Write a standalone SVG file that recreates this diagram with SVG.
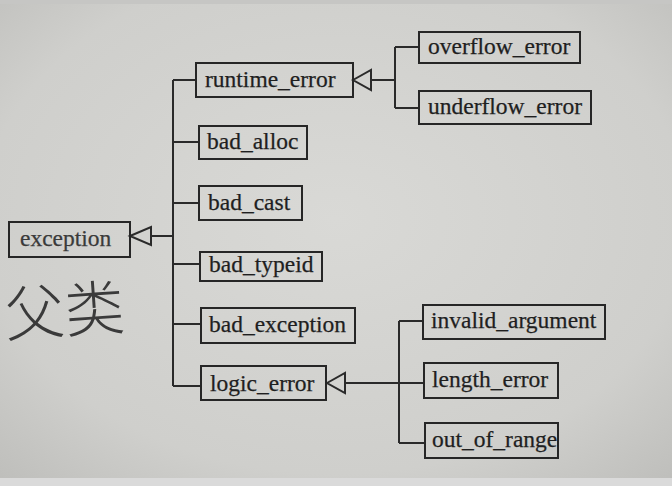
<svg xmlns="http://www.w3.org/2000/svg" width="672" height="486" viewBox="0 0 672 486">
<defs>
<radialGradient id="paper" cx="0.5" cy="0.45" r="0.75">
<stop offset="0" stop-color="#d9d9d6"/>
<stop offset="0.7" stop-color="#cfcfcc"/>
<stop offset="1" stop-color="#bdbdba"/>
</radialGradient>
<style>
.box{fill:none;stroke:#262626;stroke-width:2}
.lbl{font-family:"Liberation Serif","Times New Roman",serif;font-size:23.5px;fill:#1f1f1f;stroke:#1f1f1f;stroke-width:0.25}
.ln{fill:none;stroke:#2a2a2a;stroke-width:2}
.tri{fill:#d3d3d0;stroke:#2a2a2a;stroke-width:2;stroke-linejoin:miter}
</style>
</defs>
<rect x="0" y="0" width="672" height="486" fill="url(#paper)"/>
<rect x="0" y="0" width="672" height="4" fill="#c6c6c4"/>
<rect x="0" y="478" width="672" height="8" fill="#dadada"/>

<g id="connectors">
<path class="ln" d="M151,236 H173"/>
<path class="ln" d="M173,80 V386"/>
<path class="ln" d="M173,80 H196 M173,142 H199 M173,203 H199 M173,264 H200 M173,324 H201 M173,386 H201"/>
<polygon class="tri" points="130,236 151,227 151,245"/>
<path class="ln" d="M371,80 H395 M395,47 V108 M395,47 H419 M395,108 H419"/>
<polygon class="tri" points="353,80 371,70 371,90"/>
<path class="ln" d="M345,383 H424 M399,321 V443 M399,321 H423 M399,443 H425"/>
<polygon class="tri" points="327,383 345,373 345,393"/>
</g>

<g id="exception"><rect class="box" x="9" y="222" width="121" height="35"/><text class="lbl" x="20" y="246" style="fill:#3a3a3a;stroke:#3a3a3a">exception</text></g>
<g id="runtime_error"><rect class="box" x="196" y="63" width="157" height="34"/><text class="lbl" x="205" y="87">runtime_error</text></g>
<g id="bad_alloc"><rect class="box" x="199" y="126" width="108" height="33"/><text class="lbl" x="207" y="149">bad_alloc</text></g>
<g id="bad_cast"><rect class="box" x="199" y="186" width="103" height="34"/><text class="lbl" x="208" y="210">bad_cast</text></g>
<g id="bad_typeid"><rect class="box" x="200" y="252" width="122" height="29"/><text class="lbl" x="209" y="272">bad_typeid</text></g>
<g id="bad_exception"><rect class="box" x="201" y="308" width="154" height="35"/><text class="lbl" x="209" y="332">bad_exception</text></g>
<g id="logic_error"><rect class="box" x="201" y="366" width="125" height="34"/><text class="lbl" x="210" y="391">logic_error</text></g>
<g id="overflow_error"><rect class="box" x="419" y="32" width="161" height="31"/><text class="lbl" x="428" y="54">overflow_error</text></g>
<g id="underflow_error"><rect class="box" x="419" y="91" width="172" height="33"/><text class="lbl" x="428" y="114">underflow_error</text></g>
<g id="invalid_argument"><rect class="box" x="423" y="305" width="182" height="34"/><text class="lbl" x="431" y="328">invalid_argument</text></g>
<g id="length_error"><rect class="box" x="424" y="363" width="134" height="35"/><text class="lbl" x="432" y="387">length_error</text></g>
<g id="out_of_range"><rect class="box" x="425" y="423" width="133" height="35"/><text class="lbl" x="432" y="447">out_of_range</text></g>

<text x="4" y="333" font-family="Noto Sans CJK SC, sans-serif" font-size="60" font-weight="300" fill="#3a3a3a" transform="rotate(-4 60 305)">父类</text>
</svg>
